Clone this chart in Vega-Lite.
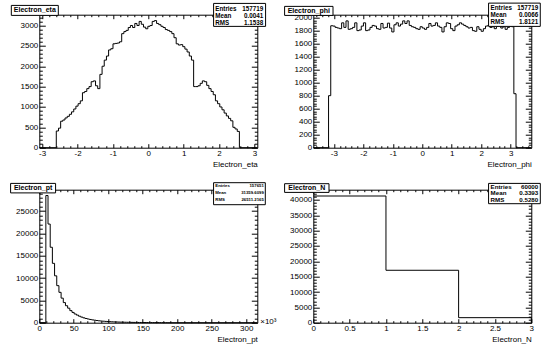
{
  "$schema": "https://vega.github.io/schema/vega-lite/v6.json",
  "background": "white",
  "padding": {"left": 9.3, "top": 1.7, "right": 5, "bottom": 5},
  "bounds": "flush",
  "columns": 2,
  "spacing": {"row": 42, "column": 56},
  "config": {
    "view": {"stroke": "black", "strokeWidth": 1},
    "axis": {"domain": false, "grid": false, "labelFont": "Liberation Sans", "labelFontSize": 8, "labelColor": "black", "tickColor": "black", "tickWidth": 1, "titleFont": "Liberation Sans", "titleFontSize": 8, "titleFontWeight": "normal", "titleColor": "black", "labelFlush": false, "labelOverlap": false},
    "text": {"font": "Liberation Sans", "color": "black"}
  },
  "datasets": {
    "eta": [{"x":-3.08,"n":0},{"x":-2.6,"n":410},{"x":-2.538,"n":480},{"x":-2.477,"n":650},{"x":-2.415,"n":680},{"x":-2.354,"n":730},{"x":-2.292,"n":770},{"x":-2.23,"n":820},{"x":-2.169,"n":880},{"x":-2.107,"n":950},{"x":-2.046,"n":1020},{"x":-1.984,"n":1080},{"x":-1.922,"n":1150},{"x":-1.861,"n":1350},{"x":-1.799,"n":1380},{"x":-1.738,"n":1450},{"x":-1.676,"n":1500},{"x":-1.614,"n":1620},{"x":-1.553,"n":1640},{"x":-1.491,"n":1520},{"x":-1.43,"n":1450},{"x":-1.368,"n":1800},{"x":-1.306,"n":2000},{"x":-1.245,"n":2150},{"x":-1.183,"n":2250},{"x":-1.122,"n":2400},{"x":-1.06,"n":2430},{"x":-0.998,"n":2550},{"x":-0.937,"n":2560},{"x":-0.875,"n":2570},{"x":-0.814,"n":2600},{"x":-0.752,"n":2800},{"x":-0.69,"n":2850},{"x":-0.629,"n":2880},{"x":-0.567,"n":2950},{"x":-0.506,"n":3000},{"x":-0.444,"n":2950},{"x":-0.382,"n":3050},{"x":-0.321,"n":3000},{"x":-0.259,"n":3100},{"x":-0.198,"n":3030},{"x":-0.136,"n":2960},{"x":-0.074,"n":2920},{"x":-0.013,"n":2980},{"x":0.049,"n":3000},{"x":0.11,"n":3100},{"x":0.172,"n":3120},{"x":0.234,"n":3050},{"x":0.295,"n":3020},{"x":0.357,"n":2980},{"x":0.418,"n":2950},{"x":0.48,"n":2900},{"x":0.542,"n":2880},{"x":0.603,"n":2850},{"x":0.665,"n":2800},{"x":0.726,"n":2700},{"x":0.788,"n":2550},{"x":0.85,"n":2520},{"x":0.911,"n":2530},{"x":0.973,"n":2480},{"x":1.034,"n":2420},{"x":1.096,"n":2350},{"x":1.158,"n":2250},{"x":1.219,"n":2150},{"x":1.281,"n":1500},{"x":1.342,"n":1500},{"x":1.404,"n":1520},{"x":1.466,"n":1580},{"x":1.527,"n":1640},{"x":1.589,"n":1620},{"x":1.65,"n":1530},{"x":1.712,"n":1450},{"x":1.774,"n":1380},{"x":1.835,"n":1300},{"x":1.897,"n":1150},{"x":1.958,"n":1080},{"x":2.02,"n":1000},{"x":2.082,"n":930},{"x":2.143,"n":850},{"x":2.205,"n":780},{"x":2.266,"n":720},{"x":2.328,"n":660},{"x":2.39,"n":500},{"x":2.451,"n":460},{"x":2.513,"n":400},{"x":2.574,"n":0},{"x":3.08,"n":0}],
    "phi": [{"x":-3.7,"n":0},{"x":-3.182,"n":800},{"x":-3.108,"n":1875},{"x":-3.034,"n":1870},{"x":-2.96,"n":1850},{"x":-2.886,"n":1840},{"x":-2.812,"n":1830},{"x":-2.738,"n":1920},{"x":-2.664,"n":1850},{"x":-2.59,"n":1950},{"x":-2.516,"n":1820},{"x":-2.442,"n":1830},{"x":-2.368,"n":1850},{"x":-2.294,"n":1920},{"x":-2.22,"n":1800},{"x":-2.146,"n":1810},{"x":-2.072,"n":1870},{"x":-1.998,"n":1920},{"x":-1.924,"n":1800},{"x":-1.85,"n":1810},{"x":-1.776,"n":1850},{"x":-1.702,"n":1880},{"x":-1.628,"n":1870},{"x":-1.554,"n":1830},{"x":-1.48,"n":1820},{"x":-1.406,"n":1910},{"x":-1.332,"n":1840},{"x":-1.258,"n":1850},{"x":-1.184,"n":1915},{"x":-1.11,"n":1840},{"x":-1.036,"n":1780},{"x":-0.962,"n":1890},{"x":-0.888,"n":1920},{"x":-0.814,"n":1870},{"x":-0.74,"n":1900},{"x":-0.666,"n":1950},{"x":-0.592,"n":1910},{"x":-0.518,"n":1950},{"x":-0.444,"n":1880},{"x":-0.37,"n":1860},{"x":-0.296,"n":1850},{"x":-0.222,"n":1830},{"x":-0.148,"n":1820},{"x":-0.074,"n":1860},{"x":0,"n":1840},{"x":0.074,"n":1820},{"x":0.148,"n":1850},{"x":0.222,"n":1910},{"x":0.296,"n":1870},{"x":0.37,"n":1880},{"x":0.444,"n":1920},{"x":0.518,"n":1870},{"x":0.592,"n":1850},{"x":0.666,"n":1780},{"x":0.74,"n":1860},{"x":0.814,"n":1920},{"x":0.888,"n":1910},{"x":0.962,"n":1830},{"x":1.036,"n":1800},{"x":1.11,"n":1870},{"x":1.184,"n":1890},{"x":1.258,"n":1920},{"x":1.332,"n":1900},{"x":1.406,"n":1880},{"x":1.48,"n":1860},{"x":1.554,"n":1840},{"x":1.628,"n":1850},{"x":1.702,"n":1800},{"x":1.776,"n":1790},{"x":1.85,"n":1860},{"x":1.924,"n":1820},{"x":1.998,"n":1790},{"x":2.072,"n":1830},{"x":2.146,"n":1870},{"x":2.22,"n":1880},{"x":2.294,"n":1850},{"x":2.368,"n":1860},{"x":2.442,"n":1830},{"x":2.516,"n":1870},{"x":2.59,"n":1880},{"x":2.664,"n":1840},{"x":2.738,"n":1860},{"x":2.812,"n":1820},{"x":2.886,"n":1850},{"x":2.96,"n":1870},{"x":3.034,"n":1860},{"x":3.108,"n":830},{"x":3.182,"n":0},{"x":3.7,"n":0}],
    "pt": [{"x":0,"n":0},{"x":9.48,"n":28500},{"x":12.64,"n":22100},{"x":15.8,"n":16900},{"x":18.96,"n":13300},{"x":22.12,"n":10500},{"x":25.28,"n":8300},{"x":28.44,"n":6800},{"x":31.6,"n":5500},{"x":34.76,"n":4500},{"x":37.92,"n":3800},{"x":41.08,"n":3250},{"x":44.24,"n":2700},{"x":47.4,"n":2300},{"x":50.56,"n":1950},{"x":53.72,"n":1700},{"x":56.88,"n":1450},{"x":60.04,"n":1250},{"x":63.2,"n":1080},{"x":66.36,"n":940},{"x":69.52,"n":820},{"x":72.68,"n":720},{"x":75.84,"n":630},{"x":79,"n":550},{"x":82.16,"n":480},{"x":85.32,"n":420},{"x":88.48,"n":370},{"x":91.64,"n":330},{"x":94.8,"n":290},{"x":97.96,"n":255},{"x":101.12,"n":225},{"x":104.28,"n":200},{"x":107.44,"n":178},{"x":110.6,"n":158},{"x":113.76,"n":140},{"x":116.92,"n":125},{"x":120.08,"n":112},{"x":123.24,"n":100},{"x":126.4,"n":90},{"x":129.56,"n":80},{"x":132.72,"n":72},{"x":135.88,"n":65},{"x":139.04,"n":58},{"x":142.2,"n":52},{"x":145.36,"n":47},{"x":148.52,"n":42},{"x":151.68,"n":38},{"x":154.84,"n":34},{"x":158,"n":30},{"x":161.16,"n":27},{"x":164.32,"n":24},{"x":167.48,"n":21},{"x":170.64,"n":18},{"x":173.8,"n":16},{"x":176.96,"n":14},{"x":180.12,"n":12},{"x":183.28,"n":10},{"x":186.44,"n":0},{"x":316,"n":0}],
    "nel": [{"x":0,"n":41280},{"x":1,"n":17082},{"x":2,"n":1638},{"x":3,"n":0}]
  },
  "concat": [
    {
      "width": 218, "height": 133,
      "resolve": {"axis": {"x": "independent", "y": "independent"}},
      "layer": [
        {
          "data": {"name": "eta"},
          "mark": {"type": "line", "interpolate": "step-after", "color": "black", "strokeWidth": 1},
          "encoding": {
            "x": {"field": "x", "type": "quantitative", "scale": {"domain": [-3.08, 3.08], "nice": false, "zero": false},
              "axis": {"orient": "bottom", "values": [-3,-2.8,-2.6,-2.4,-2.2,-2,-1.8,-1.6,-1.4,-1.2,-1,-0.8,-0.6,-0.4,-0.2,0,0.2,0.4,0.6,0.8,1,1.2,1.4,1.6,1.8,2,2.2,2.4,2.6,2.8,3],
                "labelExpr": "datum.value % 1 === 0 ? '' + datum.value : ''",
                "tickSize": {"condition": {"test": "datum.value % 1 === 0", "value": -4}, "value": -2},
                "labelPadding": 5.5, "title": "Electron_eta", "titleAnchor": "end", "titleAlign": "right", "titlePadding": 1}},
            "y": {"field": "n", "type": "quantitative", "scale": {"domain": [0, 3265], "nice": false, "zero": false},
              "axis": {"orient": "left", "values": [0,100,200,300,400,500,600,700,800,900,1000,1100,1200,1300,1400,1500,1600,1700,1800,1900,2000,2100,2200,2300,2400,2500,2600,2700,2800,2900,3000,3100,3200],
                "labelExpr": "datum.value % 500 === 0 ? '' + datum.value : ''",
                "tickSize": {"condition": {"test": "datum.value % 500 === 0", "value": -6}, "value": -3},
                "labelPadding": 7.5, "title": null}}
          }
        },
        {
          "data": {"values": [{}]},
          "mark": {"type": "rect", "fill": "white", "stroke": "black", "strokeWidth": 1},
          "encoding": {
            "x": {"datum": 1.845, "type": "quantitative",
              "axis": {"orient": "top", "values": [-3,-2.8,-2.6,-2.4,-2.2,-2,-1.8,-1.6,-1.4,-1.2,-1,-0.8,-0.6,-0.4,-0.2,0,0.2,0.4,0.6,0.8,1,1.2,1.4,1.6,1.8,2,2.2,2.4,2.6,2.8,3], "labels": false,
                "tickSize": {"condition": {"test": "datum.value % 1 === 0", "value": -4}, "value": -2}, "title": null}},
            "x2": {"datum": 3.314},
            "y": {"datum": 3542, "type": "quantitative",
              "axis": {"orient": "right", "values": [0,100,200,300,400,500,600,700,800,900,1000,1100,1200,1300,1400,1500,1600,1700,1800,1900,2000,2100,2200,2300,2400,2500,2600,2700,2800,2900,3000,3100,3200], "labels": false,
                "tickSize": {"condition": {"test": "datum.value % 500 === 0", "value": -6}, "value": -3}, "title": null}},
            "y2": {"datum": 2978}
          }
        },
        {
          "data": {"values": [{"k": "Entries\nMean\nRMS", "v": "157719\n0.0041\n1.1538"}]},
          "mark": {"type": "text", "align": "left", "baseline": "top", "fontSize": 6.3, "fontWeight": "bold", "lineBreak": "\n", "lineHeight": 7},
          "encoding": {"text": {"field": "k"}, "x": {"datum": 1.893, "type": "quantitative", "axis": null}, "y": {"datum": 3486, "type": "quantitative", "axis": null}}
        },
        {
          "data": {"values": [{"k": "Entries\nMean\nRMS", "v": "157719\n0.0041\n1.1538"}]},
          "mark": {"type": "text", "align": "right", "baseline": "top", "fontSize": 6.3, "fontWeight": "bold", "lineBreak": "\n", "lineHeight": 7},
          "encoding": {"text": {"field": "v"}, "x": {"datum": 3.25, "type": "quantitative", "axis": null}, "y": {"datum": 3486, "type": "quantitative", "axis": null}}
        },
        {
          "data": {"values": [{}]},
          "mark": {"type": "rect", "fill": "white", "stroke": "black", "strokeWidth": 1},
          "encoding": {"x": {"datum": -3.871, "type": "quantitative", "axis": null}, "x2": {"datum": -2.543}, "y": {"datum": 3493, "type": "quantitative", "axis": null}, "y2": {"datum": 3248}}
        },
        {
          "data": {"values": [{"t": "Electron_eta"}]},
          "mark": {"type": "text", "align": "center", "baseline": "middle", "fontSize": 7, "fontWeight": "bold"},
          "encoding": {"text": {"field": "t"}, "x": {"datum": -3.207, "type": "quantitative", "axis": null}, "y": {"datum": 3371, "type": "quantitative", "axis": null}}
        }
      ]
    },
    {
      "width": 218, "height": 133,
      "resolve": {"axis": {"x": "independent", "y": "independent"}},
      "layer": [
        {
          "data": {"name": "phi"},
          "mark": {"type": "line", "interpolate": "step-after", "color": "black", "strokeWidth": 1},
          "encoding": {
            "x": {"field": "x", "type": "quantitative", "scale": {"domain": [-3.7, 3.7], "nice": false, "zero": false},
              "axis": {"orient": "bottom", "values": [-3.6,-3.4,-3.2,-3,-2.8,-2.6,-2.4,-2.2,-2,-1.8,-1.6,-1.4,-1.2,-1,-0.8,-0.6,-0.4,-0.2,0,0.2,0.4,0.6,0.8,1,1.2,1.4,1.6,1.8,2,2.2,2.4,2.6,2.8,3,3.2,3.4,3.6],
                "labelExpr": "datum.value % 1 === 0 ? '' + datum.value : ''",
                "tickSize": {"condition": {"test": "datum.value % 1 === 0", "value": -4}, "value": -2},
                "labelPadding": 5.5, "title": "Electron_phi", "titleAnchor": "end", "titleAlign": "right", "titlePadding": 1}},
            "y": {"field": "n", "type": "quantitative", "scale": {"domain": [0, 2045], "nice": false, "zero": false},
              "axis": {"orient": "left", "values": [0,40,80,120,160,200,240,280,320,360,400,440,480,520,560,600,640,680,720,760,800,840,880,920,960,1000,1040,1080,1120,1160,1200,1240,1280,1320,1360,1400,1440,1480,1520,1560,1600,1640,1680,1720,1760,1800,1840,1880,1920,1960,2000,2040],
                "labelExpr": "datum.value % 200 === 0 ? '' + datum.value : ''",
                "tickSize": {"condition": {"test": "datum.value % 200 === 0", "value": -6}, "value": -3},
                "labelPadding": 7.5, "title": null}}
          }
        },
        {
          "data": {"values": [{}]},
          "mark": {"type": "rect", "fill": "white", "stroke": "black", "strokeWidth": 1},
          "encoding": {
            "x": {"datum": 2.25, "type": "quantitative",
              "axis": {"orient": "top", "values": [-3.6,-3.4,-3.2,-3,-2.8,-2.6,-2.4,-2.2,-2,-1.8,-1.6,-1.4,-1.2,-1,-0.8,-0.6,-0.4,-0.2,0,0.2,0.4,0.6,0.8,1,1.2,1.4,1.6,1.8,2,2.2,2.4,2.6,2.8,3,3.2,3.4,3.6], "labels": false,
                "tickSize": {"condition": {"test": "datum.value % 1 === 0", "value": -4}, "value": -2}, "title": null}},
            "x2": {"datum": 4.005},
            "y": {"datum": 2223, "type": "quantitative",
              "axis": {"orient": "right", "values": [0,40,80,120,160,200,240,280,320,360,400,440,480,520,560,600,640,680,720,760,800,840,880,920,960,1000,1040,1080,1120,1160,1200,1240,1280,1320,1360,1400,1440,1480,1520,1560,1600,1640,1680,1720,1760,1800,1840,1880,1920,1960,2000,2040], "labels": false,
                "tickSize": {"condition": {"test": "datum.value % 200 === 0", "value": -6}, "value": -3}, "title": null}},
            "y2": {"datum": 1865}
          }
        },
        {
          "data": {"values": [{"k": "Entries\nMean\nRMS", "v": "157719\n0.0066\n1.8121"}]},
          "mark": {"type": "text", "align": "left", "baseline": "top", "fontSize": 6.3, "fontWeight": "bold", "lineBreak": "\n", "lineHeight": 7},
          "encoding": {"text": {"field": "k"}, "x": {"datum": 2.318, "type": "quantitative", "axis": null}, "y": {"datum": 2193, "type": "quantitative", "axis": null}}
        },
        {
          "data": {"values": [{"k": "Entries\nMean\nRMS", "v": "157719\n0.0066\n1.8121"}]},
          "mark": {"type": "text", "align": "right", "baseline": "top", "fontSize": 6.3, "fontWeight": "bold", "lineBreak": "\n", "lineHeight": 7},
          "encoding": {"text": {"field": "v"}, "x": {"datum": 3.937, "type": "quantitative", "axis": null}, "y": {"datum": 2193, "type": "quantitative", "axis": null}}
        },
        {
          "data": {"values": [{}]},
          "mark": {"type": "rect", "fill": "white", "stroke": "black", "strokeWidth": 1},
          "encoding": {"x": {"datum": -4.674, "type": "quantitative", "axis": null}, "x2": {"datum": -3.031}, "y": {"datum": 2173, "type": "quantitative", "axis": null}, "y2": {"datum": 2034}}
        },
        {
          "data": {"values": [{"t": "Electron_phi"}]},
          "mark": {"type": "text", "align": "center", "baseline": "middle", "fontSize": 7, "fontWeight": "bold"},
          "encoding": {"text": {"field": "t"}, "x": {"datum": -3.853, "type": "quantitative", "axis": null}, "y": {"datum": 2103, "type": "quantitative", "axis": null}}
        }
      ]
    },
    {
      "width": 218, "height": 133,
      "resolve": {"axis": {"x": "independent", "y": "independent"}},
      "layer": [
        {
          "data": {"name": "pt"},
          "mark": {"type": "line", "interpolate": "step-after", "color": "black", "strokeWidth": 1},
          "encoding": {
            "x": {"field": "x", "type": "quantitative", "scale": {"domain": [0, 316], "nice": false, "zero": false},
              "axis": {"orient": "bottom", "values": [0,10,20,30,40,50,60,70,80,90,100,110,120,130,140,150,160,170,180,190,200,210,220,230,240,250,260,270,280,290,300,310],
                "labelExpr": "datum.value % 50 === 0 ? '' + datum.value : ''",
                "tickSize": {"condition": {"test": "datum.value % 50 === 0", "value": -4}, "value": -2},
                "labelPadding": 5.5, "title": "Electron_pt", "titleAnchor": "end", "titleAlign": "right", "titlePadding": 1}},
            "y": {"field": "n", "type": "quantitative", "scale": {"domain": [0, 29800], "nice": false, "zero": false},
              "axis": {"orient": "left", "values": [0,1000,2000,3000,4000,5000,6000,7000,8000,9000,10000,11000,12000,13000,14000,15000,16000,17000,18000,19000,20000,21000,22000,23000,24000,25000,26000,27000,28000,29000],
                "labelExpr": "datum.value % 5000 === 0 ? '' + datum.value : ''",
                "tickSize": {"condition": {"test": "datum.value % 5000 === 0", "value": -6}, "value": -3},
                "labelPadding": 7.5, "title": null}}
          }
        },
        {
          "data": {"values": [{}]},
          "mark": {"type": "rect", "fill": "white", "stroke": "black", "strokeWidth": 1},
          "encoding": {
            "x": {"datum": 252.6, "type": "quantitative",
              "axis": {"orient": "top", "values": [0,10,20,30,40,50,60,70,80,90,100,110,120,130,140,150,160,170,180,190,200,210,220,230,240,250,260,270,280,290,300,310], "labels": false,
                "tickSize": {"condition": {"test": "datum.value % 50 === 0", "value": -4}, "value": -2}, "title": null}},
            "x2": {"datum": 327.6},
            "y": {"datum": 31368, "type": "quantitative",
              "axis": {"orient": "right", "values": [0,1000,2000,3000,4000,5000,6000,7000,8000,9000,10000,11000,12000,13000,14000,15000,16000,17000,18000,19000,20000,21000,22000,23000,24000,25000,26000,27000,28000,29000], "labels": false,
                "tickSize": {"condition": {"test": "datum.value % 5000 === 0", "value": -6}, "value": -3}, "title": null}},
            "y2": {"datum": 26439}
          }
        },
        {
          "data": {"values": [{"k": "Entries\nMean\nRMS", "v": "157651\n31359.6099\n26511.2165"}]},
          "mark": {"type": "text", "align": "left", "baseline": "top", "fontSize": 4.3, "fontWeight": "bold", "lineBreak": "\n", "lineHeight": 7.3},
          "encoding": {"text": {"field": "k"}, "x": {"datum": 255.1, "type": "quantitative", "axis": null}, "y": {"datum": 31144, "type": "quantitative", "axis": null}}
        },
        {
          "data": {"values": [{"k": "Entries\nMean\nRMS", "v": "157651\n31359.6099\n26511.2165"}]},
          "mark": {"type": "text", "align": "right", "baseline": "top", "fontSize": 4.3, "fontWeight": "bold", "lineBreak": "\n", "lineHeight": 7.3},
          "encoding": {"text": {"field": "v"}, "x": {"datum": 325.4, "type": "quantitative", "axis": null}, "y": {"datum": 31144, "type": "quantitative", "axis": null}}
        },
        {
          "data": {"values": [{}]},
          "mark": {"type": "rect", "fill": "white", "stroke": "black", "strokeWidth": 1},
          "encoding": {"x": {"datum": -41.6, "type": "quantitative", "axis": null}, "x2": {"datum": 23.6}, "y": {"datum": 31211, "type": "quantitative", "axis": null}, "y2": {"datum": 29083}}
        },
        {
          "data": {"values": [{"t": "Electron_pt"}]},
          "mark": {"type": "text", "align": "center", "baseline": "middle", "fontSize": 7, "fontWeight": "bold"},
          "encoding": {"text": {"field": "t"}, "x": {"datum": -9.0, "type": "quantitative", "axis": null}, "y": {"datum": 30147, "type": "quantitative", "axis": null}}
        },
        {
          "data": {"values": [{"t": "×10³"}]},
          "mark": {"type": "text", "align": "left", "baseline": "middle", "fontSize": 8},
          "encoding": {"text": {"field": "t"}, "x": {"datum": 320.3, "type": "quantitative", "axis": null}, "y": {"datum": 200, "type": "quantitative", "axis": null}}
        }
      ]
    },
    {
      "width": 218, "height": 133,
      "resolve": {"axis": {"x": "independent", "y": "independent"}},
      "layer": [
        {
          "data": {"name": "nel"},
          "mark": {"type": "line", "interpolate": "step-after", "color": "black", "strokeWidth": 1},
          "encoding": {
            "x": {"field": "x", "type": "quantitative", "scale": {"domain": [0, 3], "nice": false, "zero": false},
              "axis": {"orient": "bottom", "values": [0,0.1,0.2,0.3,0.4,0.5,0.6,0.7,0.8,0.9,1,1.1,1.2,1.3,1.4,1.5,1.6,1.7,1.8,1.9,2,2.1,2.2,2.3,2.4,2.5,2.6,2.7,2.8,2.9,3],
                "labelExpr": "(datum.value * 2) % 1 === 0 ? '' + datum.value : ''",
                "tickSize": {"condition": {"test": "(datum.value * 2) % 1 === 0", "value": -4}, "value": -2},
                "labelPadding": 5.5, "title": "Electron_N", "titleAnchor": "end", "titleAlign": "right", "titlePadding": 1}},
            "y": {"field": "n", "type": "quantitative", "scale": {"domain": [0, 43340], "nice": false, "zero": false},
              "axis": {"orient": "left", "values": [0,1000,2000,3000,4000,5000,6000,7000,8000,9000,10000,11000,12000,13000,14000,15000,16000,17000,18000,19000,20000,21000,22000,23000,24000,25000,26000,27000,28000,29000,30000,31000,32000,33000,34000,35000,36000,37000,38000,39000,40000,41000,42000,43000],
                "labelExpr": "datum.value % 5000 === 0 ? '' + datum.value : ''",
                "tickSize": {"condition": {"test": "datum.value % 5000 === 0", "value": -6}, "value": -3},
                "labelPadding": 7.5, "title": null}}
          }
        },
        {
          "data": {"values": [{}]},
          "mark": {"type": "rect", "fill": "white", "stroke": "black", "strokeWidth": 1},
          "encoding": {
            "x": {"datum": 2.412, "type": "quantitative",
              "axis": {"orient": "top", "values": [0,0.1,0.2,0.3,0.4,0.5,0.6,0.7,0.8,0.9,1,1.1,1.2,1.3,1.4,1.5,1.6,1.7,1.8,1.9,2,2.1,2.2,2.3,2.4,2.5,2.6,2.7,2.8,2.9,3], "labels": false,
                "tickSize": {"condition": {"test": "(datum.value * 2) % 1 === 0", "value": -4}, "value": -2}, "title": null}},
            "x2": {"datum": 3.124},
            "y": {"datum": 45393, "type": "quantitative",
              "axis": {"orient": "right", "values": [0,1000,2000,3000,4000,5000,6000,7000,8000,9000,10000,11000,12000,13000,14000,15000,16000,17000,18000,19000,20000,21000,22000,23000,24000,25000,26000,27000,28000,29000,30000,31000,32000,33000,34000,35000,36000,37000,38000,39000,40000,41000,42000,43000], "labels": false,
                "tickSize": {"condition": {"test": "datum.value % 5000 === 0", "value": -6}, "value": -3}, "title": null}},
            "y2": {"datum": 38777}
          }
        },
        {
          "data": {"values": [{"k": "Entries\nMean\nRMS", "v": "60000\n0.3393\n0.5280"}]},
          "mark": {"type": "text", "align": "left", "baseline": "top", "fontSize": 6.2, "fontWeight": "bold", "lineBreak": "\n", "lineHeight": 6.6},
          "encoding": {"text": {"field": "k"}, "x": {"datum": 2.44, "type": "quantitative", "axis": null}, "y": {"datum": 45230, "type": "quantitative", "axis": null}}
        },
        {
          "data": {"values": [{"k": "Entries\nMean\nRMS", "v": "60000\n0.3393\n0.5280"}]},
          "mark": {"type": "text", "align": "right", "baseline": "top", "fontSize": 6.2, "fontWeight": "bold", "lineBreak": "\n", "lineHeight": 6.6},
          "encoding": {"text": {"field": "v"}, "x": {"datum": 3.096, "type": "quantitative", "axis": null}, "y": {"datum": 45230, "type": "quantitative", "axis": null}}
        },
        {
          "data": {"values": [{}]},
          "mark": {"type": "rect", "fill": "white", "stroke": "black", "strokeWidth": 1},
          "encoding": {"x": {"datum": -0.395, "type": "quantitative", "axis": null}, "x2": {"datum": 0.216}, "y": {"datum": 45295, "type": "quantitative", "axis": null}, "y2": {"datum": 42460}}
        },
        {
          "data": {"values": [{"t": "Electron_N"}]},
          "mark": {"type": "text", "align": "center", "baseline": "middle", "fontSize": 7, "fontWeight": "bold"},
          "encoding": {"text": {"field": "t"}, "x": {"datum": -0.0895, "type": "quantitative", "axis": null}, "y": {"datum": 43878, "type": "quantitative", "axis": null}}
        }
      ]
    }
  ]
}
